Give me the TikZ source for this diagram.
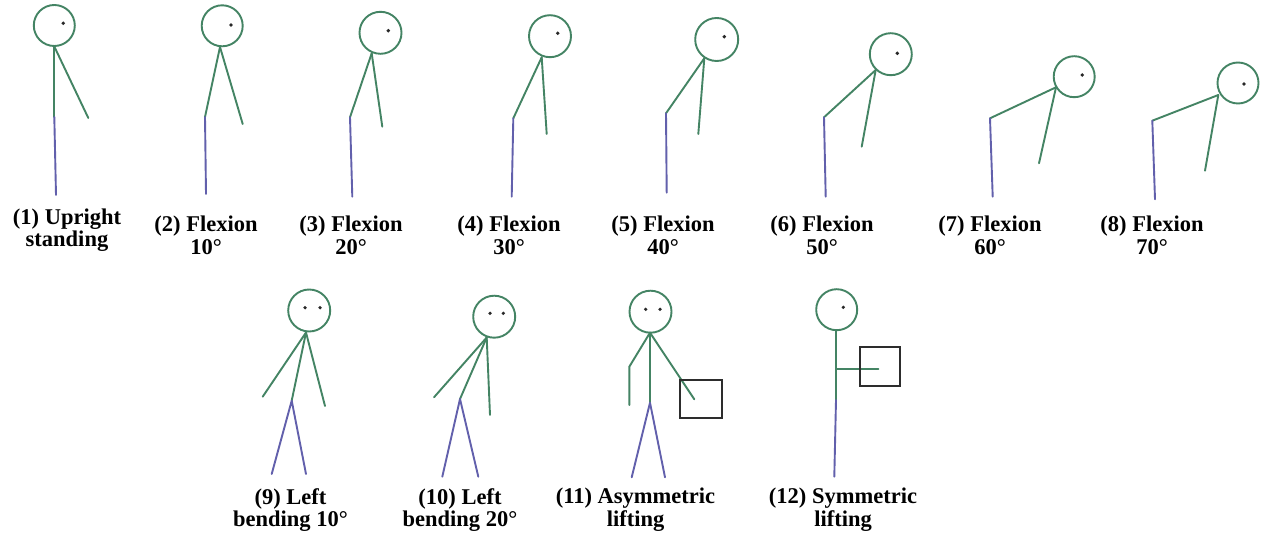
\documentclass[tikz,border=0pt]{standalone}
\usepackage{fontspec}
\setmainfont{Liberation Serif}
\definecolor{bodygreen}{RGB}{68,132,100}
\definecolor{legblue}{RGB}{98,96,172}
\definecolor{eyegray}{RGB}{40,40,40}
\definecolor{boxgray}{RGB}{45,45,45}
\begin{document}
\begin{tikzpicture}[x=1pt,y=-1pt,
  body/.style={draw=bodygreen, line width=1.9pt, line cap=round, line join=round},
  legs/.style={draw=legblue, line width=1.9pt, line cap=round, line join=round},
  head/.style={draw=bodygreen, line width=1.9pt},
  eye/.style={fill=eyegray},
  load/.style={draw=boxgray, line width=1.9pt},
  caption/.style={font=\bfseries\fontsize{22.5}{22.5}\selectfont, align=center, anchor=north, inner sep=0pt}]

% canvas
\fill[white] (0,0) rectangle (1263,545);
\useasboundingbox (0,0) rectangle (1263,545);

% ---------- (1) upright standing ----------
\coordinate (h1) at (54.3,25.5);
\coordinate (n1) at (54.3,46.5);
\coordinate (p1) at (54.3,117);
\coordinate (a1) at (88.3,118);
\coordinate (f1) at (56,195);
\draw[head] (h1) circle[radius=20.5];
\fill[eye] (63.3,23.3) circle[radius=1.9];
\draw[body] (n1) -- (p1);
\draw[body] (n1) -- (a1);
\draw[legs] (p1) -- (f1);
\node[caption] (c1) at (67,208.5) {(1) Upright\\standing};

% ---------- (2) flexion 10 ----------
\coordinate (h2) at (222.2,25.8);
\coordinate (n2) at (220,47);
\coordinate (p2) at (205,117);
\coordinate (a2) at (242.7,124);
\coordinate (f2) at (206,194);
\draw[head] (h2) circle[radius=20.5];
\fill[eye] (231,25) circle[radius=1.9];
\draw[body] (n2) -- (p2);
\draw[body] (n2) -- (a2);
\draw[legs] (p2) -- (f2);
\node[caption] (c2) at (206,216) {(2) Flexion\\10°};

% ---------- (3) flexion 20 ----------
\coordinate (h3) at (380.5,32.8);
\coordinate (n3) at (371.7,53.3);
\coordinate (p3) at (350,117.3);
\coordinate (a3) at (382.3,126.7);
\coordinate (f3) at (352.3,196.7);
\draw[head] (h3) circle[radius=21];
\fill[eye] (388.3,30.7) circle[radius=1.9];
\draw[body] (n3) -- (p3);
\draw[body] (n3) -- (a3);
\draw[legs] (p3) -- (f3);
\node[caption] (c3) at (351,216) {(3) Flexion\\20°};

% ---------- (4) flexion 30 ----------
\coordinate (h4) at (550,36.2);
\coordinate (n4) at (541.7,57.3);
\coordinate (p4) at (513.3,118.3);
\coordinate (a4) at (546.7,134);
\coordinate (f4) at (511.7,196.7);
\draw[head] (h4) circle[radius=21];
\fill[eye] (557.7,33.3) circle[radius=1.9];
\draw[body] (n4) -- (p4);
\draw[body] (n4) -- (a4);
\draw[legs] (p4) -- (f4);
\node[caption] (c4) at (509,216) {(4) Flexion\\30°};

% ---------- (5) flexion 40 ----------
\coordinate (h5) at (716.7,39.5);
\coordinate (n5) at (704.3,58.3);
\coordinate (p5) at (666,113.3);
\coordinate (a5) at (698.3,134);
\coordinate (f5) at (666.7,192.7);
\draw[head] (h5) circle[radius=21.5];
\fill[eye] (724.3,36.7) circle[radius=1.9];
\draw[body] (n5) -- (p5);
\draw[body] (n5) -- (a5);
\draw[legs] (p5) -- (f5);
\node[caption] (c5) at (663,216) {(5) Flexion\\40°};

% ---------- (6) flexion 50 ----------
\coordinate (h6) at (890.8,54.2);
\coordinate (n6) at (875.7,70);
\coordinate (p6) at (824,117.3);
\coordinate (a6) at (861.7,146.7);
\coordinate (f6) at (825.7,196.7);
\draw[head] (h6) circle[radius=21];
\fill[eye] (897.3,53.3) circle[radius=1.9];
\draw[body] (n6) -- (p6);
\draw[body] (n6) -- (a6);
\draw[legs] (p6) -- (f6);
\node[caption] (c6) at (822,216) {(6) Flexion\\50°};

% ---------- (7) flexion 60 ----------
\coordinate (h7) at (1074.2,76.7);
\coordinate (n7) at (1056,87.3);
\coordinate (p7) at (990,118.3);
\coordinate (a7) at (1039,163.3);
\coordinate (f7) at (992.7,196.7);
\draw[head] (h7) circle[radius=20.5];
\fill[eye] (1082.3,75) circle[radius=1.9];
\draw[body] (n7) -- (p7);
\draw[body] (n7) -- (a7);
\draw[legs] (p7) -- (f7);
\node[caption] (c7) at (990,216) {(7) Flexion\\60°};

% ---------- (8) flexion 70 ----------
\coordinate (h8) at (1238,83);
\coordinate (n8) at (1218.3,95);
\coordinate (p8) at (1152.3,120.7);
\coordinate (a8) at (1205,170.7);
\coordinate (f8) at (1155,199.3);
\draw[head] (h8) circle[radius=20.5];
\fill[eye] (1244,84) circle[radius=1.9];
\draw[body] (n8) -- (p8);
\draw[body] (n8) -- (a8);
\draw[legs] (p8) -- (f8);
\node[caption] (c8) at (1152,216) {(8) Flexion\\70°};

% ---------- (9) left bending 10 ----------
\coordinate (h9) at (309.2,310.5);
\coordinate (n9) at (306,332.5);
\coordinate (p9) at (291.7,400.7);
\coordinate (la9) at (262.7,396.7);
\coordinate (ra9) at (325,406);
\coordinate (lf9) at (271.7,474);
\coordinate (rf9) at (306,474);
\draw[head] (h9) circle[radius=21];
\fill[eye] (305,307.7) circle[radius=1.8];
\fill[eye] (320,307.7) circle[radius=1.8];
\draw[body] (n9) -- (p9);
\draw[body] (n9) -- (la9);
\draw[body] (n9) -- (ra9);
\draw[legs] (lf9) -- (p9) -- (rf9);
\node[caption] (c9) at (290.5,488) {(9) Left\\bending 10°};

% ---------- (10) left bending 20 ----------
\coordinate (h10) at (494.2,316.7);
\coordinate (n10) at (486.7,337.5);
\coordinate (p10) at (460,399);
\coordinate (la10) at (434,397.3);
\coordinate (ra10) at (490,415);
\coordinate (lf10) at (442.3,476.7);
\coordinate (rf10) at (478.3,476.7);
\draw[head] (h10) circle[radius=21];
\fill[eye] (490,313.3) circle[radius=1.8];
\fill[eye] (503.3,313.3) circle[radius=1.8];
\draw[body] (n10) -- (p10);
\draw[body] (n10) -- (la10);
\draw[body] (n10) -- (ra10);
\draw[legs] (lf10) -- (p10) -- (rf10);
\node[caption] (c10) at (460,488) {(10) Left\\bending 20°};

% ---------- (11) asymmetric lifting ----------
\coordinate (h11) at (650.5,311.7);
\coordinate (n11) at (650,332.7);
\coordinate (p11) at (650,402.7);
\coordinate (le11) at (629.3,366.7);
\coordinate (lh11) at (629.3,405);
\coordinate (ra11) at (694.3,399.3);
\coordinate (lf11) at (631.7,477.3);
\coordinate (rf11) at (665,477.3);
\draw[head] (h11) circle[radius=21];
\fill[eye] (645.7,309.3) circle[radius=1.8];
\fill[eye] (660,309.3) circle[radius=1.8];
\draw[body] (n11) -- (p11);
\draw[body] (n11) -- (le11) -- (lh11);
\draw[body] (n11) -- (ra11);
\draw[load] (680,380) rectangle (721.7,418.3);
\draw[legs] (lf11) -- (p11) -- (rf11);
\node[caption] (c11) at (635.5,488) {(11) Asymmetric\\lifting};

% ---------- (12) symmetric lifting ----------
\coordinate (h12) at (836.7,309.7);
\coordinate (n12) at (836,330);
\coordinate (p12) at (836,400);
\coordinate (s12) at (836,369);
\coordinate (ha12) at (878.3,369);
\coordinate (f12) at (834.3,476.7);
\draw[head] (h12) circle[radius=20.5];
\fill[eye] (843.3,307.3) circle[radius=1.8];
\draw[body] (n12) -- (p12);
\draw[body] (s12) -- (ha12);
\draw[load] (860,347.3) rectangle (900,386);
\draw[legs] (p12) -- (f12);
\node[caption] (c12) at (843,488) {(12) Symmetric\\lifting};

\end{tikzpicture}
\end{document}
